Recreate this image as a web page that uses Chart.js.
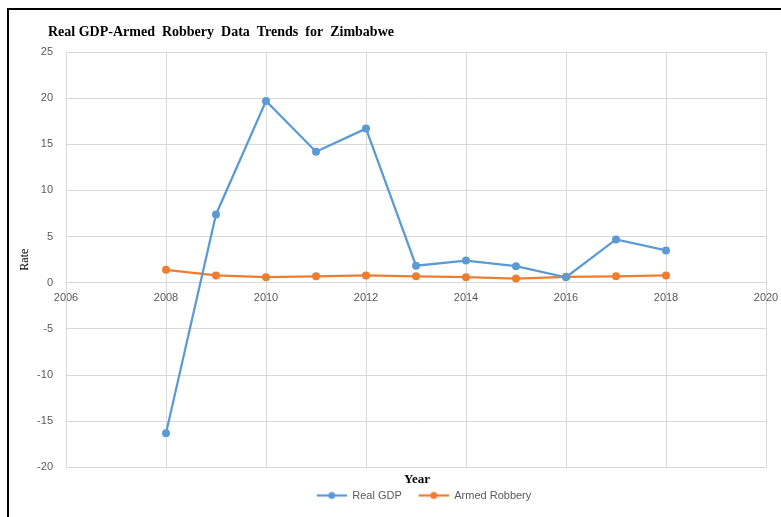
<!DOCTYPE html>
<html>
<head>
<meta charset="utf-8">
<script src="https://cdn.jsdelivr.net/npm/chart.js@4.4.0/dist/chart.umd.min.js"></script>
<style>
  html, body { margin: 0; padding: 0; background: #ffffff; }
  #wrap { position: relative; width: 781px; height: 517px; }
</style>
</head>
<body>
<div id="wrap"><canvas id="c" width="781" height="517"></canvas></div>
<script>
// ---- data ----
const years = [2008, 2009, 2010, 2011, 2012, 2013, 2014, 2015, 2016, 2017, 2018];
const realGdp = [-16.3, 7.4, 19.7, 14.2, 16.7, 1.85, 2.4, 1.8, 0.6, 4.7, 3.5];
const armedRobbery = [1.4, 0.8, 0.6, 0.7, 0.8, 0.7, 0.6, 0.45, 0.65, 0.7, 0.8];
const seriesNames = ['Real GDP', 'Armed Robbery'];
const chartTitle = 'Real GDP-Armed  Robbery  Data  Trends  for  Zimbabwe';
const xAxisTitle = 'Year';
const yAxisTitle = 'Rate';
const xMin = 2006, xMax = 2020, xStep = 2;
const yMin = -20, yMax = 25, yStep = 5;

const blue = '#5B9BD5';
const orange = '#ED7D31';
const gridColor = '#D9D9D9';
const tickColor = '#595959';

function legendSymbol(color) {
  const c = document.createElement('canvas');
  c.width = 44; c.height = 10;
  const g = c.getContext('2d');
  g.strokeStyle = color; g.lineWidth = 2.25;
  g.beginPath(); g.moveTo(14, 5); g.lineTo(44, 5); g.stroke();
  g.fillStyle = color;
  g.beginPath(); g.arc(29, 5, 3.5, 0, Math.PI * 2); g.fill();
  return c;
}

const toPoints = (vals) => years.map((yr, i) => ({ x: yr, y: vals[i] }));

const framePlugin = {
  id: 'frame',
  beforeDraw(chart) {
    const ctx = chart.ctx;
    ctx.save();
    ctx.fillStyle = '#ffffff';
    ctx.fillRect(0, 0, chart.width, chart.height);
    ctx.restore();
  },
  afterLayout(chart) {
    const lg = chart.legend;
    if (lg) { lg.left += 30; lg.right += 30; }
  },
  afterDraw(chart) {
    const ctx = chart.ctx;
    ctx.save();
    ctx.fillStyle = '#000000';
    ctx.fillRect(7, 8, chart.width - 7, 2);
    ctx.fillRect(7, 8, 2, chart.height - 8);
    ctx.font = 'bold 14px "Liberation Serif", "Times New Roman", serif';
    ctx.fillStyle = '#000000';
    ctx.textBaseline = 'middle';
    ctx.textAlign = 'left';
    ctx.fillText(chartTitle, 48, 32);
    ctx.restore();
  }
};

new Chart(document.getElementById('c'), {
  type: 'line',
  data: {
    datasets: [
      {
        label: seriesNames[0],
        data: toPoints(realGdp),
        borderColor: blue,
        backgroundColor: blue,
        borderWidth: 2.25,
        pointRadius: 4,
        pointHoverRadius: 4,
        pointBackgroundColor: blue,
        pointBorderWidth: 0,
        tension: 0
      },
      {
        label: seriesNames[1],
        data: toPoints(armedRobbery),
        borderColor: orange,
        backgroundColor: orange,
        borderWidth: 2.25,
        pointRadius: 4,
        pointHoverRadius: 4,
        pointBackgroundColor: orange,
        pointBorderWidth: 0,
        tension: 0
      }
    ]
  },
  options: {
    responsive: false,
    animation: false,
    devicePixelRatio: 1,
    layout: { padding: { left: 8, top: 52, right: 15, bottom: 6 } },
    plugins: {
      title: { display: false },
      tooltip: { enabled: false },
      legend: {
        position: 'bottom',
        title: {
          display: true,
          text: xAxisTitle,
          color: '#000000',
          font: { family: '"Liberation Serif", serif', size: 13, weight: 'bold' },
          padding: { top: 6, bottom: -2 }
        },
        labels: {
          usePointStyle: true,
          pointStyleWidth: 44,
          boxHeight: 10,
          padding: 3,
          color: tickColor,
          font: { family: '"Liberation Sans", Arial, sans-serif', size: 11 },
          generateLabels(chart) {
            return chart.data.datasets.map((ds, i) => ({
              text: ds.label,
              fillStyle: ds.borderColor,
              strokeStyle: ds.borderColor,
              lineWidth: 0,
              pointStyle: legendSymbol(ds.borderColor),
              fontColor: tickColor,
              hidden: false,
              datasetIndex: i
            }));
          }
        }
      }
    },
    scales: {
      x: {
        type: 'linear',
        position: { y: 0 },
        min: xMin,
        max: xMax,
        afterFit(scale) { scale.paddingLeft = 0; scale.paddingRight = 0; },
        ticks: {
          stepSize: xStep,
          color: tickColor,
          padding: 9,
          maxRotation: 0,
          font: { family: '"Liberation Sans", Arial, sans-serif', size: 11 },
          callback: (v) => String(v)
        },
        grid: { color: gridColor, lineWidth: 1, drawTicks: false },
        border: { color: gridColor, width: 1 }
      },
      y: {
        type: 'linear',
        position: 'left',
        min: yMin,
        max: yMax,
        afterFit(scale) { scale.width = 58; },
        ticks: {
          stepSize: yStep,
          color: tickColor,
          padding: 13,
          font: { family: '"Liberation Sans", Arial, sans-serif', size: 11 }
        },
        grid: { color: gridColor, lineWidth: 1, drawTicks: false },
        border: { color: gridColor, width: 1 },
        title: {
          display: true,
          text: yAxisTitle,
          color: '#000000',
          font: { family: '"Liberation Serif", serif', size: 12 },
          padding: { top: 10, bottom: 0 }
        }
      }
    }
  },
  plugins: [framePlugin]
});
</script>
</body>
</html>
